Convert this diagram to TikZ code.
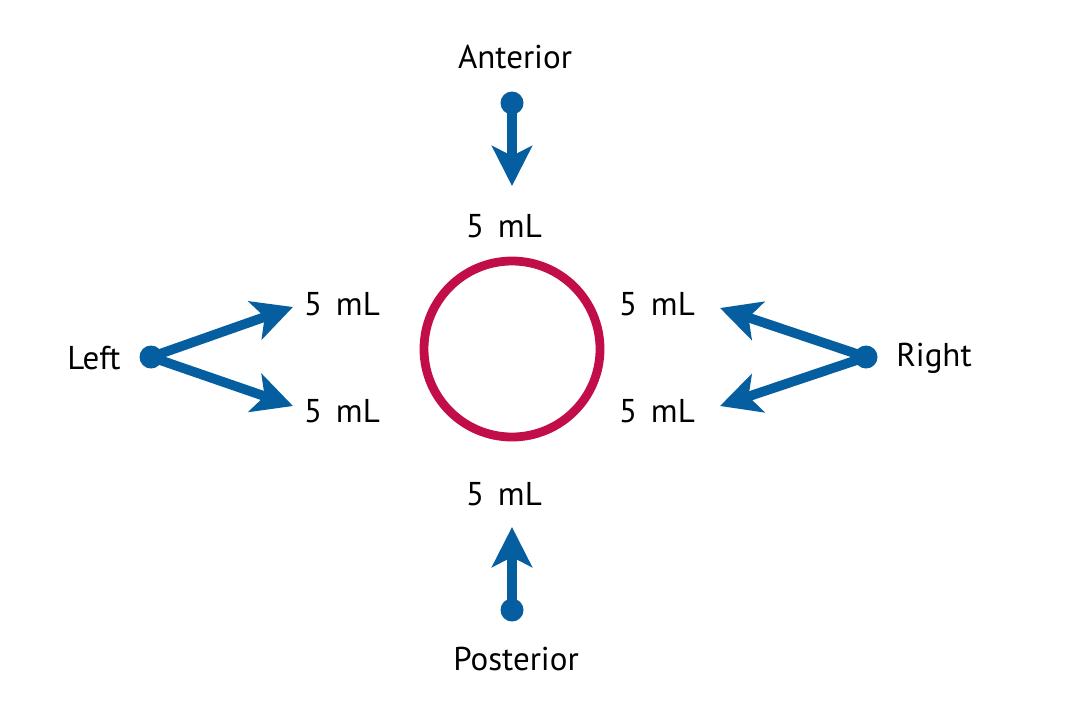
\documentclass[tikz,border=0pt]{standalone}
\usepackage{fontspec}
\setmainfont{PT Sans}
\usetikzlibrary{arrows.meta}
\definecolor{flowblue}{RGB}{4,94,160}
\definecolor{ringred}{RGB}{193,14,73}
\newcommand{\dose}{5\hspace{0.42em}mL}
\tikzset{
  dot/.style={circle, fill=flowblue, inner sep=0pt, minimum size=11.5pt},
  push/.style={flowblue, line width=4.8pt, -{Stealth[length=20pt, width=20pt, inset=5pt]}},
  lbl/.style={font=\fontsize{16.5}{19}\selectfont, inner sep=0pt},
}
\begin{document}
\begin{tikzpicture}[x=0.5pt, y=-0.5pt]
  \useasboundingbox (0,0) rectangle (1080,713);
  % syringe ring
  \draw[ringred, line width=4.4pt] (512,349) circle (88);
  % anterior
  \node[lbl] (ant) at (515,57) {Anterior};
  \node[dot] (adot) at (512,103) {};
  \coordinate (atip) at (512,186);
  \draw[push] (adot.center) -- (atip);
  \node[lbl] (amL) at (504,226) {\dose};
  % posterior
  \node[lbl] (post) at (516,659) {Posterior};
  \node[dot] (pdot) at (512,610) {};
  \coordinate (ptip) at (512,527);
  \draw[push] (pdot.center) -- (ptip);
  \node[lbl] (pmL) at (504,494) {\dose};
  % left
  \node[lbl] (left) at (94,358) {Left};
  \node[dot] (ldot) at (151,357) {};
  \coordinate (ltipa) at (293,307);
  \coordinate (ltipb) at (293,406);
  \draw[push] (ldot.center) -- (ltipa);
  \draw[push] (ldot.center) -- (ltipb);
  \node[lbl] (lmLa) at (342,304) {\dose};
  \node[lbl] (lmLb) at (342,411) {\dose};
  % right
  \node[lbl] (right) at (934,358) {Right};
  \node[dot] (rdot) at (866,357) {};
  \coordinate (rtipa) at (720,308);
  \coordinate (rtipb) at (720,406);
  \draw[push] (rdot.center) -- (rtipa);
  \draw[push] (rdot.center) -- (rtipb);
  \node[lbl] (rmLa) at (657,304) {\dose};
  \node[lbl] (rmLb) at (657,411) {\dose};
\end{tikzpicture}
\end{document}
